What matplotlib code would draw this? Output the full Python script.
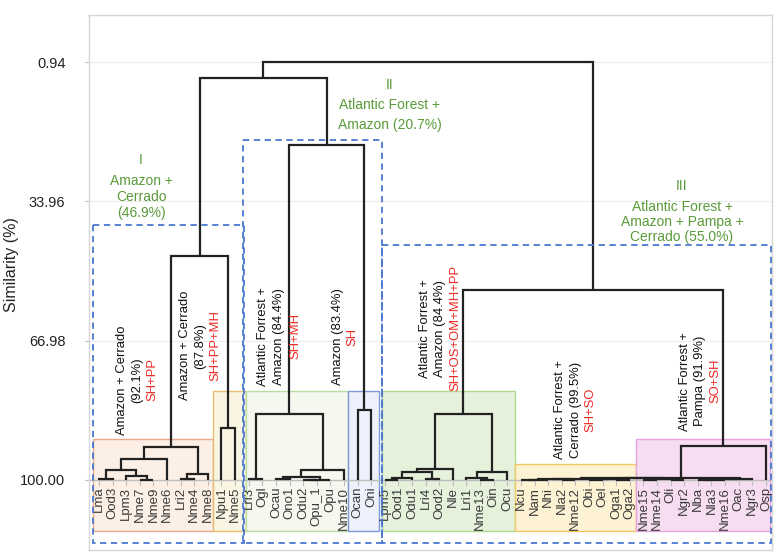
import matplotlib
matplotlib.use("Agg")
import matplotlib.pyplot as plt
from matplotlib.patches import Rectangle

# ---------------- data ----------------
leaves = ["Lma", "Ood3", "Lpm3", "Nme7", "Nme9", "Nme6", "Lri2", "Nme4", "Nme8",
          "Npu1", "Nme5",
          "Lri3", "Ogl", "Ocau", "Ono1", "Odu2", "Opu_1", "Opu", "Nme10",
          "Ocan", "Oni",
          "Lpm5", "Ood1", "Odu1", "Lri4", "Ood2", "Nle", "Lri1", "Nme13", "Oin", "Ocu",
          "Ncu", "Nam", "Nhi", "Nla2", "Nme12", "Obi", "Oel", "Oga1", "Oga2",
          "Nme15", "Nme14", "Oli", "Ngr2", "Nba", "Nla3", "Nme16", "Oac", "Ngr3", "Osp"]

# merges: node c{k} = merge_a[k] + merge_b[k] at similarity merge_sim[k]
merge_a = ["Lma", "Nme7", "Lpm3", "c0", "c3", "Lri2", "c5", "c4", "Npu1", "c7",
           "Lri3", "Ocau", "Odu2", "c12", "c11", "c14", "c10", "Ocan", "c16", "c9",
           "Lpm5", "c20", "Lri4", "c21", "c23", "Nme13", "Lri1", "c26", "c24",
           "Ncu", "c29", "Nla2", "c30", "Obi", "Oga1", "c33", "c32",
           "Nme15", "Oli", "c37", "c36",
           "Nba", "c41", "c42", "c43", "c40", "c45", "c28", "c19"]
merge_b = ["Ood3", "Nme9", "c1", "c2", "Nme6", "Nme4", "Nme8", "c6", "Nme5", "c8",
           "Ogl", "Ono1", "Opu_1", "Opu", "c13", "Nme10", "c15", "Oni", "c17", "c18",
           "Ood1", "Odu1", "Ood2", "c22", "Nle", "Oin", "c25", "Ocu", "c27",
           "Nam", "Nhi", "Nme12", "c31", "Oel", "Oga2", "c34", "c35",
           "Nme14", "Ngr2", "c38", "c39",
           "Nla3", "Nme16", "Oac", "Ngr3", "c44", "Osp", "c46", "c47"]
merge_sim = [99.8, 99.95, 99.05, 97.6, 95.1, 99.8, 98.6, 92.1, 87.8, 46.9,
             99.8, 99.8, 99.95, 99.9, 99.2, 97.6, 84.4, 83.4, 20.7, 4.7,
             99.9, 99.5, 99.8, 98.2, 97.5, 99.9, 99.6, 98.2, 84.4,
             99.95, 99.9, 99.95, 99.85, 99.9, 99.95, 99.8, 99.7,
             99.9, 99.9, 99.8, 99.6,
             99.95, 99.9, 99.85, 99.7, 99.5, 91.9, 55.0, 0.94]

ytick_vals = [0.94, 33.96, 66.98, 100.00]
ytick_labels = ["0.94", "33.96", "66.98", "100.00"]

# cluster annotation texts (rotated)
sub_labels = [
    ["Amazon + Cerrado", "(92.1%)", "SH+PP"],
    ["Amazon + Cerrado", "(87.8%)", "SH+PP+MH"],
    ["Atlantic Forrest +", "Amazon (84.4%)", "SH+MH"],
    ["Amazon (83.4%)", "SH"],
    ["Atlantic Forrest +", "Amazon (84.4%)", "SH+OS+OM+MH+PP"],
    ["Atlantic Forrest +", "Cerrado (99.5%)", "SH+SO"],
    ["Atlantic Forrest +", "Pampa (91.9%)", "SO+SH"],
]
group_labels = [
    ["I", "Amazon +", "Cerrado", "(46.9%)"],
    ["II", "Atlantic Forest +", "Amazon (20.7%)"],
    ["III", "Atlantic Forest +", "Amazon + Pampa +", "Cerrado (55.0%)"],
]

# ---------------- layout / style ----------------
sub_x = [[1.69, 2.79, 3.89], [6.32, 7.42, 8.52], [12.05, 13.23, 14.40],
         [17.56, 18.59], [23.95, 25.05, 26.16], [33.87, 35.05, 36.08],
         [43.06, 44.16, 45.26]]
sub_y = [76.3, 68.2, 65.9, 66.1, 64.0, 83.4, 76.6]
group_x = [3.09, 21.38, 42.84]
group_y = [[24.2, 29.1, 32.9, 36.7], [6.4, 11.2, 15.9], [30.3, 35.3, 38.9, 42.4]]

boxes = [  # x0, x1, top, face, edge
    (-0.45, 8.4, 90.3, "#fcefe5", "#eba98a"),
    (8.4, 10.8, 78.9, "#faf5e3", "#e6bd6c"),
    (10.8, 18.3, 78.9, "#f4f8ee", "#b8dca2"),
    (18.3, 20.6, 78.9, "#eef1fb", "#7d9ad8"),
    (20.8, 30.55, 78.9, "#e6f1dc", "#b2d992"),
    (30.55, 39.45, 96.2, "#fdf2d3", "#f1c862"),
    (39.45, 49.3, 90.3, "#f7ddf2", "#e7a2de"),
]
box_bottom = 112.1
dashed = [(-0.44, 10.65, 39.6), (10.58, 20.8, 19.4), (20.8, 49.35, 44.3)]
dashed_bottom = 114.9

plt.rcParams["font.family"] = ["Liberation Sans", "DejaVu Sans"]

fig = plt.figure(figsize=(7.84, 5.56), dpi=100)
ax = fig.add_axes([89 / 784, 6 / 556, (772 - 89) / 784, (550 - 15) / 556])
ax.set_xlim(-0.735, 49.45)
ax.set_ylim(116.6, -10.2)

for x0, x1, top, fc, ec in boxes:
    ax.add_patch(Rectangle((x0, top), x1 - x0, box_bottom - top, facecolor=fc,
                           edgecolor=ec, lw=1.0, zorder=0.5))

for v in ytick_vals[:-1]:
    ax.axhline(v, color="#ececec", lw=0.8, zorder=0.4)
ax.axhline(100.0, color="#bdbdbd", lw=1.0, zorder=1)

# dendrogram
pos = {name: (float(i), 100.0) for i, name in enumerate(leaves)}
for k, (a, b, h) in enumerate(zip(merge_a, merge_b, merge_sim)):
    xa, ya = pos[a]
    xb, yb = pos[b]
    ax.plot([xa, xa, xb, xb], [ya, h, h, yb], color="#222222", lw=1.6,
            solid_joinstyle="miter", solid_capstyle="butt", zorder=3)
    pos["c%d" % k] = ((xa + xb) / 2.0, h)

for i, name in enumerate(leaves):
    ax.plot([i, i], [100.0, 101.1], color="#bdbdbd", lw=0.8, zorder=1)
    ax.text(i, 101.6, name, rotation=90, ha="center", va="top", fontsize=9.5,
            color="#3a3a3a", zorder=4)

for x0, x1, top in dashed:
    ax.add_patch(Rectangle((x0, top), x1 - x0, dashed_bottom - top, fill=False,
                           edgecolor="#4a78d0", lw=1.3, linestyle=(0, (3.5, 2.5)),
                           zorder=5))

for lines, xs, y in zip(sub_labels, sub_x, sub_y):
    for j, (t, x) in enumerate(zip(lines, xs)):
        col = "#ee2a24" if j == len(lines) - 1 else "#111111"
        ax.text(x, y, t, rotation=90, ha="center", va="center", fontsize=9.4,
                color=col, zorder=6)

for lines, x, ys in zip(group_labels, group_x, group_y):
    for t, y in zip(lines, ys):
        ax.text(x, y, t, ha="center", va="center", fontsize=10,
                color="#5a9b3a", zorder=6)

ax.set_xticks([])
ax.set_yticks(ytick_vals)
ax.set_yticklabels(ytick_labels, fontsize=10.5)
ax.tick_params(axis="y", length=3, color="#bbbbbb", pad=14, labelcolor="#222222")
for s in ax.spines.values():
    s.set_color("#d6d6d6")
    s.set_linewidth(1.0)
fig.text(12 / 784, 1 - 265 / 556, "Similarity (%)", rotation=90, ha="center",
         va="center", fontsize=11.5, color="#222222")

fig.savefig("out.png", dpi=100)
